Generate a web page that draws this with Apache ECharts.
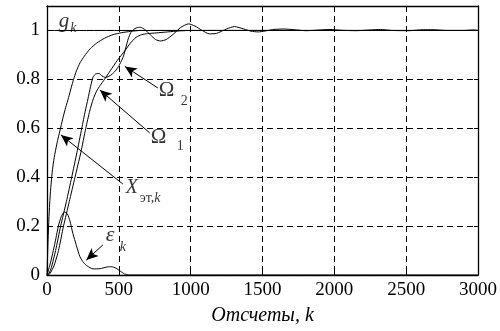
<!DOCTYPE html>
<html><head><meta charset="utf-8">
<script src="https://cdn.jsdelivr.net/npm/echarts@6/dist/echarts.min.js"></script>
<style>html,body{margin:0;padding:0;background:#fff}#c{width:500px;height:331px}</style>
</head><body><div id="c"></div>
<script>
// ---- data (k, value) ----
const xTickValues = [0, 500, 1000, 1500, 2000, 2500, 3000];
const yTickLabels = ['0', '0.2', '0.4', '0.6', '0.8', '1'];
const gK = [[0, 1], [3000, 1]];
const xRef = [[0,0],[6,0.12],[14,0.24],[24,0.34],[36,0.42],[50,0.48],[70,0.54],[90,0.59],[110,0.64],[130,0.685],[150,0.725],[168,0.765],[185,0.8],[205,0.835],[230,0.868],[260,0.895],[300,0.925],[345,0.948],[400,0.968],[460,0.983],[520,0.991],[580,0.996],[650,1.0],[3000,1.0]];
const omega1 = [[0,0],[20,0.005],[50,0.04],[80,0.1],[115,0.2],[155,0.3],[195,0.4],[235,0.5],[270,0.6],[297,0.67],[322,0.72],[345,0.752],[370,0.775],[400,0.8],[440,0.835],[490,0.878],[542,0.917],[580,0.948],[620,0.972],[660,0.983],[700,0.987],[760,0.99],[840,0.994],[920,0.998],[1000,1.0],[3000,1.0]];
const omega2 = [[0,0],[15,0.008],[30,0.03],[60,0.1],[95,0.2],[135,0.3],[172,0.4],[208,0.5],[242,0.6],[266,0.67],[285,0.72],[303,0.77],[320,0.808],[338,0.822],[362,0.824],[383,0.814],[405,0.808],[430,0.812],[452,0.821],[475,0.834],[497,0.852],[515,0.872],[532,0.895],[548,0.928],[565,0.965],[582,0.99],[600,1.003],[625,1.011],[650,1.013],[680,1.004],[720,0.982],[755,0.963],[790,0.957],[830,0.963],[880,0.985],[930,1.012],[985,1.027],[1030,1.018],[1080,1.0],[1130,0.986],[1180,0.988],[1250,1.006],[1305,1.016],[1370,1.006],[1420,0.997],[1470,0.994],[1520,0.998],[1580,1.004],[1650,1.006],[1720,1.003],[1800,0.999],[1900,1.002],[1970,1.004],[2040,1.001],[2150,0.999],[2250,1.002],[2320,1.004],[2400,1.0],[2520,0.999],[2620,1.003],[2680,1.003],[2780,1.0],[2900,1.0],[2970,1.002],[3000,1.0]];
const epsK = [[0,0],[20,0.04],[44,0.1],[62,0.15],[79,0.2],[100,0.24],[122,0.258],[142,0.25],[160,0.22],[180,0.17],[205,0.12],[229,0.075],[255,0.05],[280,0.037],[320,0.025],[370,0.026],[420,0.033],[450,0.034],[480,0.028],[510,0.016],[540,0.004],[570,0],[3000,0]];

// ---- annotations (data coordinates) ----
const notes = [
  {t:'g', k:83, v:1.038, s:21, i:true},
  {t:'k', k:163, v:1.008, s:14, i:true},
  {t:'Ω', k:778, v:0.755, s:21, i:false},
  {t:'2', k:931, v:0.710, s:14, i:false},
  {t:'Ω', k:722, v:0.562, s:21, i:false},
  {t:'1', k:903, v:0.526, s:14, i:false},
  {t:'X', k:549, v:0.356, s:20, i:true},
  {t:'{a|эт,}{b|k}', k:646, v:0.313, s:14, i:false},
  {t:'ε', k:410, v:0.162, s:22, i:true},
  {t:'k', k:507, v:0.113, s:14, i:true}
];
const arrows = [
  [771, 0.765, 542, 0.853],
  [715, 0.581, 368, 0.757],
  [528, 0.372, 97, 0.573],
  [389, 0.123, 274, 0.061]
];

const FONT = "'Liberation Serif', 'Times New Roman', serif";
const chart = echarts.init(document.getElementById('c'), null, {renderer: 'canvas'});
const axLine = {show: true, onZero: false, lineStyle: {color: '#000', width: 1.3}};
const axTick = {show: true, inside: true, length: 4, lineStyle: {color: '#000', width: 1}};
const curve = (data) => ({type: 'line', data, showSymbol: false, smooth: 0.2, lineStyle: {color: '#000', width: 1}, silent: true, z: 3});

chart.setOption({
  animation: false,
  backgroundColor: '#fff',
  grid: {left: 47, right: 21, top: 6, bottom: 56, containLabel: false},
  xAxis: [
    {type: 'value', position: 'bottom', min: xTickValues[0], max: xTickValues[xTickValues.length-1], interval: 500,
     axisLine: axLine, axisTick: axTick,
     axisLabel: {color: '#000', fontFamily: FONT, fontSize: 19, margin: 6, formatter: (v) => String(v)},
     splitLine: {show: true, lineStyle: {type: [6, 4], color: '#000', width: 1}},
     name: 'Отсчеты, k', nameLocation: 'middle', nameGap: 31,
     nameTextStyle: {color: '#000', fontFamily: FONT, fontSize: 20, fontStyle: 'italic'}},
    {type: 'value', position: 'top', min: 0, max: 3000, interval: 500,
     axisLine: axLine, axisTick: axTick, axisLabel: {show: false}, splitLine: {show: false}}
  ],
  yAxis: [
    {type: 'value', position: 'left', min: 0, max: 1.1, interval: 0.2,
     axisLine: axLine, axisTick: axTick,
     axisLabel: {color: '#000', fontFamily: FONT, fontSize: 19, margin: 7, showMaxLabel: false,
       formatter: (v) => { const i = Math.round(v / 0.2); return Math.abs(v - i*0.2) < 1e-6 && i < yTickLabels.length ? yTickLabels[i] : ''; }},
     splitLine: {show: true, lineStyle: {type: [6, 4], color: '#000', width: 1}}},
    {type: 'value', position: 'right', min: 0, max: 1.1, interval: 0.2,
     axisLine: axLine, axisTick: axTick, axisLabel: {show: false}, splitLine: {show: false}}
  ],
  series: [
    curve(gK), curve(xRef), curve(omega1), curve(omega2), curve(epsK),
    {type: 'line', data: [], silent: true,
     markLine: {silent: true, animation: false, symbol: ['none', 'arrow'], symbolSize: [8, 12],
       lineStyle: {color: '#000', width: 1, type: 'solid'}, label: {show: false},
       emphasis: {disabled: true},
       data: arrows.map(a => [{coord: [a[0], a[1]]}, {coord: [a[2], a[3]]}])}},
    {type: 'scatter', silent: true, symbolSize: 0.1, itemStyle: {color: 'rgba(0,0,0,0)'}, z: 10,
     data: notes.map(n => ({value: [n.k, n.v],
       label: {formatter: n.t, fontSize: n.s, fontStyle: n.i ? 'italic' : 'normal'}})),
     label: {show: true, position: [0, 0], align: 'left', verticalAlign: 'middle', color: '#000', fontFamily: FONT,
       rich: {a: {fontFamily: FONT, fontSize: 14, color: '#000'}, b: {fontFamily: FONT, fontSize: 14, fontStyle: 'italic', color: '#000'}}}}
  ]
});
</script></body></html>
